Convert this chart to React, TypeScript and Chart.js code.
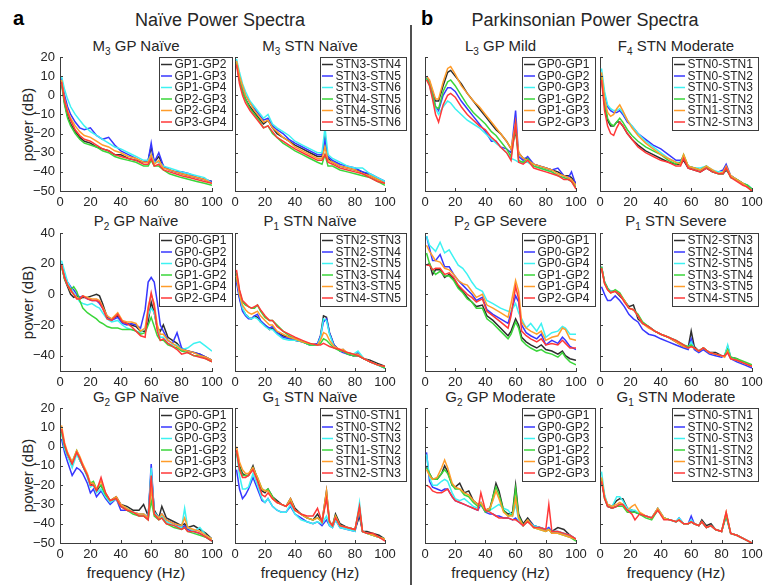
import React, { useEffect, useRef } from "react";
import { Chart, registerables } from "chart.js";

Chart.register(...registerables);

const FONT = "'Liberation Sans', Arial, Helvetica, sans-serif";
const TEXT = "#262626";
const AXIS = "#3c3c3c";
const SERIES_COLORS = ["#2e2e2e", "#3737ff", "#3df2f2", "#3ad63a", "#ff9c2a", "#ff3838"];
Chart.defaults.font.family = FONT;

// ---------- tick labels ----------
const X_TICKS = [0, 20, 40, 60, 80, 100];
const Y_TICKS_ROW1 = [20, 10, 0, -10, -20, -30, -40, -50];
const Y_TICKS_ROW2 = [40, 20, 0, -20, -40];
const Y_TICKS_ROW3 = [20, 10, 0, -10, -20, -30, -40, -50];

// ---------- M3 GP Naïve ----------
const M3GP_TITLE = ["M", "3", " GP Naïve"];
const M3GP_LABELS = ["GP1-GP2", "GP1-GP3", "GP1-GP4", "GP2-GP3", "GP2-GP4", "GP3-GP4"];
const M3GP_FREQ = [1, 3, 5, 7, 10, 13, 16, 20, 24, 28, 32, 36, 40, 45, 50, 55, 58, 60, 62, 65, 68, 72, 76, 80, 85, 90, 95, 100];
const M3GP_VALUES = [
  [7, -4, -11, -15, -19, -22, -24, -25, -27, -28, -29, -31, -31, -33, -34, -35, -34, -27, -35, -32, -37, -39, -40, -41, -42, -43, -44, -45],
  [9, 0, -6, -10, -14, -17, -18, -17, -21, -23, -22, -26, -29, -31, -33, -35, -34, -25, -35, -30, -37, -39, -40, -40, -41, -43, -44, -45],
  [10, 3, -2, -6, -10, -13, -16, -19, -21, -23, -25, -27, -28, -30, -32, -34, -34, -31, -35, -35, -37, -38, -39, -40, -41, -42, -43, -46],
  [6, -5, -12, -16, -20, -23, -25, -26, -27, -29, -30, -32, -33, -34, -35, -37, -37, -34, -37, -37, -39, -41, -42, -43, -44, -45, -46, -47],
  [8, -2, -8, -12, -16, -19, -21, -22, -24, -26, -27, -29, -30, -32, -33, -35, -35, -31, -36, -34, -38, -39, -40, -41, -42, -43, -44, -46],
  [7, -3, -9, -13, -18, -21, -23, -24, -26, -28, -29, -31, -32, -33, -34, -36, -36, -33, -37, -36, -39, -40, -41, -42, -43, -44, -45, -46],
];

// ---------- M3 STN Naïve ----------
const M3STN_TITLE = ["M", "3", " STN Naïve"];
const M3STN_LABELS = ["STN3-STN4", "STN3-STN5", "STN3-STN6", "STN4-STN5", "STN4-STN6", "STN5-STN6"];
const M3STN_FREQ = [1, 3, 5, 7, 10, 13, 16, 19, 22, 25, 28, 32, 36, 40, 45, 50, 55, 58, 60, 62, 65, 70, 75, 80, 85, 90, 95, 100];
const M3STN_VALUES = [
  [17, 8, 2, -2, -6, -9, -12, -15, -13, -17, -20, -22, -24, -26, -28, -30, -32, -32, -22, -33, -35, -37, -38, -39, -40, -42, -44, -46],
  [18, 10, 4, 0, -4, -7, -10, -13, -12, -16, -18, -20, -23, -25, -27, -29, -31, -31, -23, -32, -34, -36, -37, -38, -40, -41, -43, -45],
  [19, 12, 6, 2, -3, -6, -9, -12, -10, -15, -17, -19, -21, -24, -26, -28, -30, -30, -17, -31, -33, -35, -37, -38, -38, -41, -43, -45],
  [17, 8, 2, -2, -7, -10, -13, -17, -16, -20, -22, -25, -27, -29, -31, -33, -35, -36, -31, -37, -37, -39, -40, -41, -42, -43, -45, -47],
  [18, 10, 5, 0, -4, -8, -11, -14, -13, -17, -19, -22, -24, -27, -29, -31, -33, -33, -27, -34, -35, -37, -38, -39, -41, -42, -44, -46],
  [16, 6, 0, -4, -8, -11, -14, -17, -16, -19, -22, -24, -26, -28, -30, -32, -34, -34, -31, -35, -36, -38, -39, -40, -41, -43, -45, -46],
];

// ---------- L3 GP Mild ----------
const L3GP_TITLE = ["L", "3", " GP Mild"];
const L3GP_LABELS = ["GP0-GP1", "GP0-GP2", "GP0-GP3", "GP1-GP2", "GP1-GP3", "GP2-GP3"];
const L3GP_FREQ = [1, 3, 5, 7, 9, 12, 15, 17, 20, 24, 28, 32, 36, 40, 44, 47, 50, 54, 57, 60, 62, 65, 68, 72, 76, 80, 84, 88, 92, 95, 97, 100];
const L3GP_VALUES = [
  [9, 7, 2, -3, -3, 5, 12, 13, 10, 6, 1, -3, -7, -11, -15, -18, -20, -24, -28, -19, -30, -33, -33, -36, -37, -38, -39, -40, -42, -42, -43, -46],
  [10, 7, 1, -6, -8, 0, 4, 4, 2, -3, -7, -11, -15, -19, -24, -24, -27, -28, -30, -8, -32, -34, -32, -36, -37, -38, -39, -38, -42, -43, -40, -47],
  [9, 5, -1, -7, -10, -6, -3, -4, -7, -10, -13, -15, -17, -20, -23, -25, -27, -30, -33, -34, -35, -35, -35, -37, -38, -39, -40, -42, -43, -44, -45, -48],
  [9, 6, 0, -6, -7, 2, 7, 8, 5, 0, -5, -9, -12, -15, -19, -21, -24, -28, -32, -17, -34, -35, -33, -37, -38, -39, -40, -42, -43, -44, -45, -48],
  [10, 8, 3, -2, -2, 7, 14, 15, 11, 5, 1, -3, -6, -10, -14, -17, -20, -24, -28, -14, -30, -33, -34, -36, -37, -38, -39, -41, -42, -43, -44, -47],
  [8, 5, -2, -10, -14, -5, 0, 1, -1, -6, -10, -13, -16, -18, -22, -24, -27, -30, -34, -15, -35, -36, -34, -38, -39, -40, -41, -42, -44, -44, -45, -49],
];

// ---------- F4 STN Moderate ----------
const F4STN_TITLE = ["F", "4", " STN Moderate"];
const F4STN_LABELS = ["STN0-STN1", "STN0-STN2", "STN0-STN3", "STN1-STN2", "STN1-STN3", "STN2-STN3"];
const F4STN_FREQ = [1, 3, 5, 7, 9, 11, 13, 15, 18, 21, 25, 30, 35, 40, 45, 50, 53, 55, 58, 62, 66, 70, 74, 78, 81, 83, 86, 90, 94, 97, 100];
const F4STN_VALUES = [
  [9, -5, -13, -16, -16, -14, -14, -16, -20, -23, -26, -29, -31, -33, -35, -36, -36, -34, -38, -39, -40, -38, -40, -41, -41, -39, -42, -44, -46, -48, -50],
  [11, 0, -6, -8, -9, -9, -8, -10, -14, -16, -20, -23, -26, -28, -31, -34, -34, -32, -37, -38, -39, -37, -40, -40, -39, -36, -42, -44, -46, -47, -49],
  [14, 2, -5, -7, -8, -8, -7, -9, -13, -16, -20, -24, -27, -30, -33, -35, -35, -32, -37, -38, -38, -37, -39, -40, -40, -38, -42, -44, -46, -47, -49],
  [10, -4, -12, -15, -16, -14, -12, -14, -18, -21, -24, -27, -29, -31, -34, -36, -35, -31, -37, -38, -39, -37, -40, -41, -41, -38, -43, -44, -46, -47, -49],
  [12, -2, -9, -11, -10, -7, -5, -8, -13, -17, -21, -25, -28, -31, -33, -35, -36, -31, -37, -38, -39, -37, -39, -41, -40, -37, -42, -44, -46, -48, -50],
  [8, -8, -16, -20, -21, -17, -14, -16, -20, -23, -27, -30, -32, -34, -35, -37, -37, -33, -38, -39, -40, -38, -40, -41, -41, -38, -43, -45, -47, -48, -50],
];

// ---------- P2 GP Naïve ----------
const P2GPN_TITLE = ["P", "2", " GP Naïve"];
const P2GPN_LABELS = ["GP0-GP1", "GP0-GP2", "GP0-GP4", "GP1-GP2", "GP1-GP4", "GP2-GP4"];
const P2GPN_FREQ = [1, 3, 5, 7, 9, 11, 13, 15, 18, 21, 24, 26, 28, 31, 34, 38, 41, 44, 47, 50, 53, 56, 58, 60, 62, 64, 66, 68, 71, 74, 77, 80, 84, 88, 92, 96, 100];
const P2GPN_VALUES = [
  [19, 10, 5, 0, -2, -1, -3, -2, -2, -1, 0, -1, -6, -15, -16, -14, -18, -19, -20, -21, -24, -24, -18, -5, -12, -22, -24, -20, -28, -30, -32, -36, -37, -38, -39, -41, -43],
  [20, 12, 8, 5, 3, 0, -2, -1, -3, -4, -4, -6, -9, -14, -17, -15, -19, -20, -19, -20, -22, -10, 8, 11, 8, -5, -20, -24, -30, -32, -25, -35, -37, -38, -39, -41, -43],
  [22, 15, 8, 4, 1, -2, -5, -6, -7, -6, -8, -9, -12, -16, -18, -17, -20, -22, -23, -24, -25, -22, -14, -9, -12, -22, -28, -28, -32, -33, -33, -36, -35, -32, -31, -34, -37],
  [18, 10, 6, 3, 5, 2, -4, -9, -12, -14, -16, -18, -19, -21, -22, -22, -23, -23, -23, -24, -26, -25, -20, -15, -21, -27, -30, -30, -33, -34, -35, -37, -38, -40, -40, -42, -44],
  [19, 11, 6, 2, 0, -2, -3, -1, -2, -3, -3, -4, -8, -14, -16, -12, -17, -18, -18, -19, -24, -22, -8, 0, -6, -20, -26, -26, -30, -32, -34, -36, -37, -38, -40, -41, -43],
  [19, 11, 6, 3, 0, -3, -3, -1, -3, -4, -4, -5, -9, -16, -17, -13, -18, -19, -21, -24, -27, -28, -10, 1, -8, -24, -30, -29, -32, -34, -36, -39, -38, -40, -41, -42, -44],
];

// ---------- P1 STN Naïve ----------
const P1STNN_TITLE = ["P", "1", " STN Naïve"];
const P1STNN_LABELS = ["STN2-STN3", "STN2-STN4", "STN2-STN5", "STN3-STN4", "STN3-STN5", "STN4-STN5"];
const P1STNN_FREQ = [1, 3, 5, 7, 9, 11, 13, 15, 17, 20, 23, 25, 28, 32, 36, 40, 45, 50, 55, 57, 59, 61, 63, 66, 70, 72, 75, 79, 82, 86, 90, 95, 100];
const P1STNN_VALUES = [
  [10, -2, -10, -13, -15, -16, -14, -15, -18, -20, -23, -22, -25, -27, -28, -30, -31, -33, -33, -27, -14, -15, -25, -33, -37, -36, -39, -40, -40, -42, -43, -45, -47],
  [8, -3, -11, -14, -16, -16, -14, -13, -17, -20, -22, -21, -25, -28, -29, -30, -31, -33, -32, -27, -18, -16, -25, -33, -37, -38, -39, -40, -38, -42, -44, -46, -48],
  [12, 0, -9, -13, -15, -16, -15, -16, -18, -21, -23, -23, -26, -29, -30, -30, -31, -33, -33, -28, -16, -17, -26, -34, -37, -37, -38, -39, -37, -42, -44, -46, -48],
  [14, 2, -5, -7, -8, -9, -9, -7, -11, -15, -17, -17, -20, -24, -27, -29, -31, -33, -33, -32, -29, -30, -32, -35, -37, -37, -39, -40, -40, -42, -44, -46, -48],
  [12, 0, -7, -10, -12, -13, -12, -11, -14, -17, -20, -20, -24, -26, -28, -29, -31, -32, -33, -30, -25, -26, -30, -34, -36, -36, -38, -39, -39, -42, -44, -46, -47],
  [16, 3, -4, -6, -8, -9, -8, -7, -10, -14, -17, -17, -21, -24, -26, -28, -30, -32, -33, -33, -32, -33, -34, -35, -36, -37, -38, -39, -40, -42, -44, -46, -47],
];

// ---------- P2 GP Severe ----------
const P2GPS_TITLE = ["P", "2", " GP Severe"];
const P2GPS_LABELS = ["GP0-GP1", "GP0-GP2", "GP0-GP4", "GP1-GP2", "GP1-GP4", "GP2-GP4"];
const P2GPS_FREQ = [1, 3, 5, 7, 10, 13, 16, 19, 22, 25, 28, 31, 34, 38, 41, 45, 50, 55, 57, 60, 62, 64, 67, 70, 74, 77, 80, 84, 88, 91, 93, 96, 100];
const P2GPS_VALUES = [
  [19, 20, 13, 16, 16, 11, 13, 10, 5, 2, -2, -5, -8, -7, -14, -17, -22, -27, -24, -16, -20, -28, -31, -33, -35, -33, -36, -37, -39, -37, -40, -42, -43],
  [38, 30, 22, 22, 26, 18, 18, 13, 9, 6, 3, 0, -4, -2, -10, -13, -16, -19, -12, -1, -5, -20, -25, -27, -29, -26, -33, -30, -32, -28, -30, -34, -36],
  [38, 32, 30, 28, 34, 27, 29, 24, 19, 17, 13, 8, 4, 2, -4, -6, -9, -11, -11, -6, -12, -16, -22, -19, -24, -19, -28, -25, -24, -21, -22, -26, -26],
  [27, 20, 16, 13, 15, 12, 12, 9, 4, 1, -3, -5, -9, -9, -16, -19, -24, -29, -26, -18, -22, -30, -33, -35, -37, -36, -38, -39, -41, -38, -41, -44, -46],
  [32, 28, 25, 22, 21, 17, 16, 13, 9, 7, 6, 2, -2, 0, -7, -9, -12, -15, -6, 9, 2, -18, -22, -24, -26, -24, -30, -28, -27, -22, -23, -29, -30],
  [19, 19, 16, 17, 17, 13, 14, 11, 6, 3, 0, -2, -5, -3, -11, -14, -18, -22, -14, 5, -3, -24, -27, -29, -31, -29, -33, -32, -33, -30, -32, -35, -35],
];

// ---------- P1 STN Severe ----------
const P1STNS_TITLE = ["P", "1", " STN Severe"];
const P1STNS_LABELS = ["STN2-STN3", "STN2-STN4", "STN2-STN5", "STN3-STN4", "STN3-STN5", "STN4-STN5"];
const P1STNS_FREQ = [1, 3, 5, 7, 10, 13, 16, 19, 22, 25, 28, 32, 36, 40, 45, 50, 55, 58, 60, 62, 65, 68, 72, 76, 80, 82, 84, 86, 90, 95, 100];
const P1STNS_VALUES = [
  [18, 8, 4, 2, 2, -1, -4, -8, -7, -16, -19, -21, -24, -26, -28, -31, -34, -35, -24, -34, -37, -35, -38, -38, -40, -40, -34, -41, -42, -45, -47],
  [5, 0, -4, -4, -1, -4, -8, -13, -16, -18, -23, -26, -27, -29, -31, -33, -35, -36, -29, -36, -38, -36, -39, -40, -41, -40, -38, -42, -44, -46, -48],
  [18, 8, 4, 2, 2, 0, -4, -9, -10, -14, -19, -21, -24, -26, -28, -30, -33, -35, -31, -35, -37, -35, -38, -39, -40, -40, -33, -41, -43, -45, -47],
  [18, 8, 4, 1, 3, 1, -4, -9, -10, -13, -18, -21, -24, -26, -28, -30, -33, -34, -33, -35, -37, -35, -38, -39, -40, -40, -36, -41, -42, -44, -46],
  [17, 7, 3, 1, 2, 0, -4, -9, -10, -14, -19, -22, -24, -26, -28, -31, -34, -35, -34, -35, -37, -35, -38, -39, -40, -41, -37, -42, -43, -45, -47],
  [17, 7, 3, 1, 2, 0, -5, -9, -10, -14, -19, -21, -24, -26, -28, -30, -33, -35, -34, -35, -37, -35, -38, -39, -40, -40, -38, -42, -43, -45, -47],
];

// ---------- G2 GP Naïve ----------
const G2GPN_TITLE = ["G", "2", " GP Naïve"];
const G2GPN_LABELS = ["GP0-GP1", "GP0-GP2", "GP0-GP3", "GP1-GP2", "GP1-GP3", "GP2-GP3"];
const G2GPN_FREQ = [1, 3, 5, 8, 11, 13, 15, 18, 20, 22, 24, 27, 30, 33, 37, 40, 44, 48, 52, 55, 58, 60, 62, 65, 67, 70, 75, 80, 82, 84, 88, 92, 96, 100];
const G2GPN_VALUES = [
  [8, 0, -5, -9, -3, -7, -10, -15, -20, -19, -23, -20, -25, -28, -26, -30, -31, -33, -33, -30, -36, -13, -33, -37, -31, -37, -39, -41, -40, -42, -41, -43, -45, -48],
  [4, -3, -8, -15, -11, -12, -14, -19, -24, -22, -26, -23, -27, -30, -27, -33, -33, -34, -35, -35, -37, -9, -34, -37, -35, -38, -40, -42, -41, -43, -44, -45, -47, -49],
  [7, -1, -5, -11, -4, -7, -10, -16, -21, -20, -24, -22, -26, -29, -27, -31, -32, -34, -35, -35, -37, -11, -34, -37, -36, -39, -41, -42, -32, -42, -44, -42, -46, -48],
  [8, 0, -4, -8, -2, -6, -10, -15, -19, -18, -22, -20, -25, -28, -27, -31, -33, -35, -36, -36, -38, -28, -36, -38, -37, -40, -42, -43, -42, -44, -45, -46, -47, -49],
  [11, 2, -3, -8, -2, -5, -9, -14, -19, -19, -22, -18, -24, -28, -26, -30, -32, -34, -35, -35, -37, -22, -35, -37, -35, -38, -40, -41, -37, -42, -43, -44, -46, -48],
  [9, 1, -4, -9, -3, -6, -10, -15, -20, -20, -23, -16, -24, -28, -27, -31, -33, -34, -36, -36, -38, -15, -35, -38, -37, -40, -41, -43, -42, -44, -44, -45, -47, -49],
];

// ---------- G1 STN Naïve ----------
const G1STNN_TITLE = ["G", "1", " STN Naïve"];
const G1STNN_LABELS = ["STN0-STN1", "STN0-STN2", "STN0-STN3", "STN1-STN2", "STN1-STN3", "STN2-STN3"];
const G1STNN_FREQ = [1, 3, 5, 7, 9, 12, 15, 18, 20, 22, 25, 28, 31, 34, 37, 40, 44, 48, 52, 55, 58, 61, 63, 65, 67, 70, 75, 80, 83, 85, 88, 92, 96, 100];
const G1STNN_VALUES = [
  [-2, -10, -14, -15, -15, -10, -17, -23, -24, -22, -26, -28, -30, -31, -27, -32, -35, -37, -38, -35, -39, -23, -39, -41, -35, -40, -42, -43, -36, -44, -44, -45, -46, -48],
  [-12, -22, -27, -25, -22, -16, -22, -28, -29, -27, -31, -33, -34, -34, -31, -35, -37, -39, -40, -39, -41, -38, -41, -42, -38, -42, -43, -44, -34, -44, -45, -46, -47, -48],
  [-3, -15, -22, -22, -21, -14, -20, -27, -29, -27, -31, -33, -34, -34, -30, -35, -38, -39, -40, -39, -40, -36, -41, -42, -38, -42, -43, -44, -29, -44, -45, -46, -47, -48],
  [-3, -11, -15, -15, -15, -11, -16, -22, -23, -22, -26, -29, -30, -31, -28, -33, -35, -37, -38, -37, -39, -26, -39, -41, -36, -41, -42, -43, -32, -44, -45, -46, -47, -48],
  [0, -8, -12, -14, -14, -11, -16, -22, -23, -23, -27, -29, -30, -31, -27, -33, -35, -37, -38, -37, -39, -23, -39, -41, -36, -41, -42, -43, -32, -44, -45, -46, -47, -48],
  [-2, -12, -16, -16, -15, -12, -18, -25, -26, -24, -27, -29, -30, -31, -29, -33, -35, -36, -36, -32, -39, -27, -39, -41, -37, -41, -42, -43, -31, -44, -45, -45, -47, -49],
];

// ---------- G2 GP Moderate ----------
const G2GPM_TITLE = ["G", "2", " GP Moderate"];
const G2GPM_LABELS = ["GP0-GP1", "GP0-GP2", "GP0-GP3", "GP1-GP2", "GP1-GP3", "GP2-GP3"];
const G2GPM_FREQ = [1, 3, 5, 8, 11, 13, 15, 18, 20, 23, 26, 29, 32, 35, 37, 40, 43, 45, 47, 49, 52, 55, 58, 60, 62, 65, 68, 72, 76, 80, 82, 84, 88, 92, 96, 100];
const G2GPM_VALUES = [
  [-10, -14, -17, -17, -14, -10, -13, -20, -21, -19, -24, -23, -28, -30, -29, -33, -32, -26, -19, -23, -33, -35, -34, -20, -35, -40, -37, -41, -42, -43, -43, -44, -42, -43, -46, -48],
  [-3, -18, -21, -22, -23, -22, -22, -26, -28, -29, -30, -31, -32, -33, -30, -34, -35, -35, -36, -36, -37, -37, -38, -37, -39, -41, -38, -41, -42, -43, -42, -44, -44, -45, -46, -48],
  [-4, -16, -20, -20, -18, -17, -18, -24, -27, -28, -27, -29, -31, -32, -29, -33, -33, -32, -31, -30, -32, -33, -36, -30, -38, -41, -39, -41, -42, -43, -43, -44, -44, -45, -46, -48],
  [-11, -14, -17, -17, -14, -12, -14, -20, -22, -22, -25, -26, -29, -31, -30, -34, -33, -26, -21, -25, -33, -36, -35, -22, -36, -41, -38, -42, -43, -44, -43, -45, -45, -46, -47, -49],
  [-12, -15, -17, -16, -11, -7, -11, -19, -21, -22, -24, -25, -28, -30, -29, -33, -32, -28, -23, -27, -34, -36, -36, -27, -37, -41, -38, -42, -43, -44, -43, -45, -45, -46, -47, -48],
  [-20, -21, -23, -24, -24, -23, -22, -26, -28, -29, -30, -31, -32, -33, -24, -33, -34, -35, -36, -37, -37, -37, -38, -38, -39, -41, -39, -42, -42, -43, -30, -44, -44, -45, -46, -48],
];

// ---------- G1 STN Moderate ----------
const G1STNM_TITLE = ["G", "1", " STN Moderate"];
const G1STNM_LABELS = ["STN0-STN1", "STN0-STN2", "STN0-STN3", "STN1-STN2", "STN1-STN3", "STN2-STN3"];
const G1STNM_FREQ = [1, 3, 5, 8, 11, 13, 15, 18, 21, 23, 26, 30, 34, 38, 42, 46, 50, 52, 55, 58, 60, 62, 65, 67, 70, 73, 76, 80, 83, 86, 90, 95, 100];
const G1STNM_VALUES = [
  [-17, -26, -30, -31, -28, -27, -27, -32, -33, -34, -35, -36, -37, -32, -37, -38, -39, -38, -40, -40, -39, -40, -41, -38, -41, -40, -43, -44, -35, -45, -46, -48, -50],
  [-17, -26, -31, -32, -31, -30, -30, -33, -34, -34, -35, -36, -37, -33, -37, -38, -39, -37, -40, -40, -36, -40, -41, -39, -42, -41, -43, -44, -36, -45, -46, -48, -50],
  [-13, -25, -30, -31, -26, -26, -28, -32, -33, -33, -35, -36, -37, -32, -37, -38, -39, -37, -40, -40, -38, -40, -41, -39, -42, -41, -43, -44, -35, -45, -46, -48, -50],
  [-17, -27, -31, -32, -31, -31, -31, -34, -34, -34, -35, -37, -38, -33, -37, -38, -39, -38, -40, -40, -39, -40, -41, -39, -42, -41, -43, -44, -36, -45, -46, -48, -50],
  [-16, -26, -30, -31, -30, -29, -30, -33, -31, -30, -34, -36, -37, -32, -37, -38, -39, -38, -40, -40, -39, -40, -41, -39, -42, -41, -43, -44, -34, -45, -46, -48, -50],
  [-18, -27, -31, -32, -31, -30, -30, -33, -35, -38, -35, -36, -37, -33, -38, -38, -39, -38, -40, -40, -39, -40, -41, -39, -42, -41, -43, -44, -34, -45, -46, -48, -50],
];

// ---------- layout (positions only) ----------
const COLS = [
  { x0: 60, x1: 212, yLabels: true, overhang: 20 },
  { x0: 235, x1: 385, yLabels: false, overhang: 21 },
  { x0: 425, x1: 576, yLabels: false, overhang: 19 },
  { x0: 600, x1: 752, yLabels: false, overhang: 6 },
];
const ROWS = [
  { y0: 57, y1: 191, min: -50, max: 20, ticks: Y_TICKS_ROW1, titleBase: 51 },
  { y0: 233, y1: 371, min: -50, max: 40, ticks: Y_TICKS_ROW2, titleBase: 226 },
  { y0: 408, y1: 543, min: -50, max: 20, ticks: Y_TICKS_ROW3, titleBase: 402 },
];

type PlotSpec = {
  row: number;
  col: number;
  title: string[];
  labels: string[];
  freq: number[];
  values: number[][];
};

const PLOTS: PlotSpec[] = [
  { row: 0, col: 0, title: M3GP_TITLE, labels: M3GP_LABELS, freq: M3GP_FREQ, values: M3GP_VALUES },
  { row: 0, col: 1, title: M3STN_TITLE, labels: M3STN_LABELS, freq: M3STN_FREQ, values: M3STN_VALUES },
  { row: 0, col: 2, title: L3GP_TITLE, labels: L3GP_LABELS, freq: L3GP_FREQ, values: L3GP_VALUES },
  { row: 0, col: 3, title: F4STN_TITLE, labels: F4STN_LABELS, freq: F4STN_FREQ, values: F4STN_VALUES },
  { row: 1, col: 0, title: P2GPN_TITLE, labels: P2GPN_LABELS, freq: P2GPN_FREQ, values: P2GPN_VALUES },
  { row: 1, col: 1, title: P1STNN_TITLE, labels: P1STNN_LABELS, freq: P1STNN_FREQ, values: P1STNN_VALUES },
  { row: 1, col: 2, title: P2GPS_TITLE, labels: P2GPS_LABELS, freq: P2GPS_FREQ, values: P2GPS_VALUES },
  { row: 1, col: 3, title: P1STNS_TITLE, labels: P1STNS_LABELS, freq: P1STNS_FREQ, values: P1STNS_VALUES },
  { row: 2, col: 0, title: G2GPN_TITLE, labels: G2GPN_LABELS, freq: G2GPN_FREQ, values: G2GPN_VALUES },
  { row: 2, col: 1, title: G1STNN_TITLE, labels: G1STNN_LABELS, freq: G1STNN_FREQ, values: G1STNN_VALUES },
  { row: 2, col: 2, title: G2GPM_TITLE, labels: G2GPM_LABELS, freq: G2GPM_FREQ, values: G2GPM_VALUES },
  { row: 2, col: 3, title: G1STNM_TITLE, labels: G1STNM_LABELS, freq: G1STNM_FREQ, values: G1STNM_VALUES },
];

const fmt = (v: any) => String(v).replace("-", "\u2212");

// inward tick marks (MATLAB style) drawn on top
const inwardTicks = {
  id: "inwardTicks",
  afterDraw(chart: any) {
    const { ctx, chartArea: a, scales } = chart;
    const x = scales.x;
    const y = scales.y;
    ctx.save();
    ctx.strokeStyle = AXIS;
    ctx.lineWidth = 1;
    ctx.beginPath();
    x.ticks.forEach((t: any) => {
      const px = Math.round(x.getPixelForValue(t.value)) + 0.5;
      ctx.moveTo(px, a.bottom);
      ctx.lineTo(px, a.bottom - 3);
    });
    y.ticks.forEach((t: any) => {
      const py = Math.round(y.getPixelForValue(t.value)) + 0.5;
      ctx.moveTo(a.left, py);
      ctx.lineTo(a.left + 3, py);
    });
    ctx.stroke();
    ctx.restore();
  },
};

// boxed legend at the upper right, allowed to overhang the plot
const legendBox = {
  id: "legendBox",
  afterDraw(chart: any, _args: any, opts: any) {
    const { ctx, chartArea: a } = chart;
    const ds = chart.data.datasets;
    ctx.save();
    ctx.font = `12px ${FONT}`;
    const textW = Math.max(...ds.map((d: any) => ctx.measureText(d.label).width));
    const rowH = 11.5;
    const w = Math.round(textW + 21);
    const h = Math.round(ds.length * rowH + 4);
    const right = Math.round(a.right + (opts?.overhang ?? 0));
    const left = right - w + 0.5;
    const top = Math.round(a.top) + 0.5;
    ctx.fillStyle = "#ffffff";
    ctx.fillRect(left, top, w, h);
    ctx.strokeStyle = AXIS;
    ctx.lineWidth = 1;
    ctx.strokeRect(left, top, w, h);
    ds.forEach((d: any, i: number) => {
      const cy = top + 7 + i * rowH;
      ctx.strokeStyle = d.borderColor;
      ctx.lineWidth = 1.5;
      ctx.beginPath();
      ctx.moveTo(left + 1.5, cy);
      ctx.lineTo(left + 12.5, cy);
      ctx.stroke();
      ctx.fillStyle = TEXT;
      ctx.textBaseline = "middle";
      ctx.textAlign = "left";
      ctx.fillText(d.label, left + 15, cy + 0.5);
    });
    ctx.restore();
  },
};

function SpectrumPlot({ plot }: { plot: PlotSpec }) {
  const ref = useRef<HTMLCanvasElement | null>(null);
  const col = COLS[plot.col];
  const row = ROWS[plot.row];
  const L = col.yLabels ? 58 : 14;
  const R = Math.max(16, col.overhang + 4);
  const T = 14;
  const B = 26;
  const yW = col.yLabels ? 50 : 0;
  const xH = 22;
  const w = col.x1 - col.x0 + L + R;
  const h = row.y1 - row.y0 + T + B;

  useEffect(() => {
    if (!ref.current) return;
    const n = plot.values.length;
    const chart = new Chart(ref.current, {
      type: "line",
      data: {
        datasets: plot.values.map((vals, i) => ({
          label: plot.labels[i],
          data: plot.freq.map((f, j) => ({ x: f, y: vals[j] })),
          borderColor: SERIES_COLORS[i],
          backgroundColor: SERIES_COLORS[i],
          borderWidth: 1.5,
          pointRadius: 0,
          tension: 0,
          fill: false,
          order: n - i,
        })),
      },
      options: {
        responsive: false,
        animation: false,
        events: [],
        layout: { padding: { left: L - yW, right: R, top: T, bottom: B - xH } },
        plugins: {
          legend: { display: false },
          tooltip: { enabled: false },
          legendBox: { overhang: col.overhang },
        } as any,
        scales: {
          x: {
            type: "linear",
            min: 0,
            max: 100,
            afterBuildTicks: (s: any) => {
              s.ticks = X_TICKS.map((v) => ({ value: v }));
            },
            afterFit: (s: any) => {
              s.height = xH;
            },
            ticks: {
              autoSkip: false,
              maxRotation: 0,
              padding: 4,
              color: TEXT,
              font: { size: 13, family: FONT },
              callback: fmt,
            },
            grid: { display: false, drawTicks: false },
            border: { display: true, color: AXIS, width: 1 },
          },
          y: {
            type: "linear",
            min: row.min,
            max: row.max,
            afterBuildTicks: (s: any) => {
              s.ticks = row.ticks.map((v) => ({ value: v }));
            },
            afterFit: (s: any) => {
              s.width = yW;
            },
            ticks: {
              display: col.yLabels,
              autoSkip: false,
              padding: 5,
              color: TEXT,
              font: { size: 13, family: FONT },
              callback: fmt,
            },
            grid: { display: false, drawTicks: false },
            border: { display: true, color: AXIS, width: 1 },
          },
        },
      } as any,
      plugins: [inwardTicks, legendBox],
    });
    return () => chart.destroy();
  }, []);

  return (
    <canvas
      ref={ref}
      width={w}
      height={h}
      style={{ position: "absolute", left: col.x0 - L, top: row.y0 - T, width: w, height: h }}
    />
  );
}

function Txt(props: { x: number; base: number; size: number; align?: "center" | "left"; bold?: boolean; color?: string; children: any }) {
  const { x, base, size, align = "center", bold = false, color = TEXT, children } = props;
  const width = 400;
  return (
    <div
      style={{
        position: "absolute",
        left: align === "center" ? x - width / 2 : x,
        top: base - 0.8465 * size,
        width,
        textAlign: align,
        fontSize: size,
        lineHeight: `${size}px`,
        fontWeight: bold ? 700 : 400,
        whiteSpace: "nowrap",
        fontFamily: FONT,
        color,
      }}
    >
      {children}
    </div>
  );
}

export default function App() {
  return (
    <div
      style={{
        position: "fixed",
        left: 0,
        top: 0,
        width: 765,
        height: 585,
        background: "#ffffff",
        overflow: "hidden",
        fontFamily: FONT,
      }}
    >
      <Txt x={13} base={25} size={20} align="left" bold color="#000">a</Txt>
      <Txt x={220} base={26} size={18}>Naïve Power Spectra</Txt>
      <Txt x={421} base={25} size={20} align="left" bold color="#000">b</Txt>
      <Txt x={585} base={26} size={18}>Parkinsonian Power Spectra</Txt>
      <div style={{ position: "absolute", left: 410, top: 25, width: 2, height: 560, background: "#505050" }} />

      {PLOTS.map((p, i) => {
        const col = COLS[p.col];
        const row = ROWS[p.row];
        return (
          <Txt key={"t" + i} x={(col.x0 + col.x1) / 2} base={row.titleBase} size={15}>
            {p.title[0]}
            <span style={{ fontSize: 10, position: "relative", top: 4 }}>{p.title[1]}</span>
            {p.title[2]}
          </Txt>
        );
      })}

      {ROWS.map((row, i) => (
        <div
          key={"yl" + i}
          style={{
            position: "absolute",
            left: 27 - 60,
            top: (row.y0 + row.y1) / 2 - 7.5,
            width: 120,
            height: 15,
            lineHeight: "15px",
            fontSize: 15,
            textAlign: "center",
            transform: "rotate(-90deg)",
            whiteSpace: "nowrap",
            color: TEXT,
          }}
        >
          power (dB)
        </div>
      ))}

      {COLS.map((col, i) => (
        <Txt key={"xl" + i} x={(col.x0 + col.x1) / 2} base={578} size={15}>
          frequency (Hz)
        </Txt>
      ))}

      {PLOTS.map((p, i) => (
        <SpectrumPlot key={"p" + i} plot={p} />
      ))}
    </div>
  );
}
